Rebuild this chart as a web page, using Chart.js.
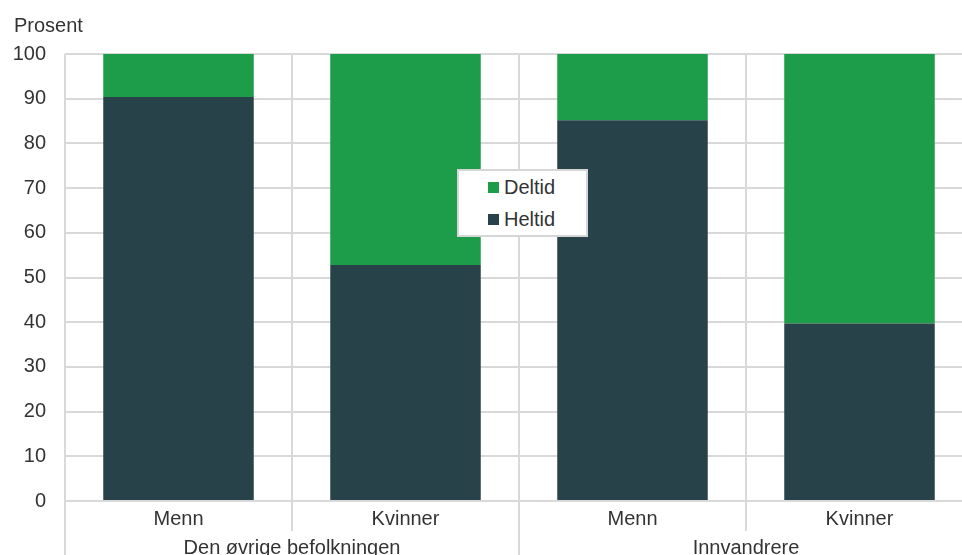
<!DOCTYPE html>
<html><head><meta charset="utf-8">
<script src="https://cdn.jsdelivr.net/npm/chart.js@4"></script>
<style>
html,body{margin:0;padding:0;overflow:hidden;background:#fff;width:962px;height:555px}
#wrap{position:relative;width:980px;height:555px}
#title{position:absolute;left:14px;top:13px;font-family:"Liberation Sans",Arial,sans-serif;font-size:20px;line-height:24px;color:#333}
#legend{position:absolute;left:457px;top:169px;width:127px;height:64px;border:2px solid #d6d6d6;background:#fff;font-family:"Liberation Sans",Arial,sans-serif;font-size:20px;color:#333}
.row{position:absolute;left:29px;height:24px;line-height:24px;white-space:nowrap}
.sq{display:inline-block;width:11px;height:11px;vertical-align:middle;margin-right:5px;position:relative;top:-1px}
</style>
</head><body>
<div id="wrap">
<canvas id="c" width="980" height="555"></canvas>
<div id="title">Prosent</div>
<div id="legend"></div>
</div>
<script>
const categories = ['Menn', 'Kvinner', 'Menn', 'Kvinner'];
const groups = ['Den øvrige befolkningen', 'Innvandrere'];
const heltid = [90.4, 52.8, 85.2, 39.7];
const deltid = [9.6, 47.2, 14.8, 60.3];
const yTicks = [0, 10, 20, 30, 40, 50, 60, 70, 80, 90, 100];

const green = '#1d9c4a';
const dark = '#284249';
const gridColor = '#d9d9d9';
const font = '"Liberation Sans", Arial, sans-serif';

const groupPlugin = {
  id: 'groups',
  afterDraw(chart) {
    const xs = chart.scales.x, ctx = chart.ctx, a = chart.chartArea;
    const n = categories.length, per = n / groups.length;
    const w = (xs.right - xs.left) / n;
    ctx.save();
    ctx.strokeStyle = gridColor;
    ctx.lineWidth = 2;
    for (let i = 0; i <= n; i++) {
      const px = Math.round(xs.left + i * w);
      ctx.beginPath();
      ctx.moveTo(px, a.bottom);
      ctx.lineTo(px, i % per === 0 ? a.bottom + 60 : a.bottom + 30);
      ctx.stroke();
    }
    ctx.fillStyle = '#333';
    ctx.font = '20px ' + font;
    ctx.textAlign = 'center';
    ctx.textBaseline = 'middle';
    groups.forEach((g, gi) => {
      const cx = xs.left + (gi * per + per / 2) * w;
      ctx.fillText(g, cx, a.bottom + 47);
    });
    ctx.restore();
  }
};

const chart = new Chart(document.getElementById('c'), {
  type: 'bar',
  data: {
    labels: categories,
    datasets: [
      { label: 'Heltid', data: heltid, backgroundColor: dark, barPercentage: 0.663, categoryPercentage: 1 },
      { label: 'Deltid', data: deltid, backgroundColor: green, barPercentage: 0.663, categoryPercentage: 1 }
    ]
  },
  options: {
    responsive: false,
    animation: false,
    layout: { padding: { left: 12, right: 7, top: 54, bottom: 18 } },
    plugins: { legend: { display: false }, tooltip: { enabled: false } },
    scales: {
      x: {
        stacked: true,
        grid: { offset: true, color: gridColor, lineWidth: 2, drawTicks: false },
        border: { display: false },
        ticks: { color: '#333', font: { family: font, size: 20 }, padding: 6 }
      },
      y: {
        stacked: true,
        min: 0, max: 100,
        afterBuildTicks(s) { s.ticks = yTicks.map(v => ({ value: v })); },
        afterFit(s) { s.width = 53; },
        grid: { color: gridColor, lineWidth: 2, drawTicks: false },
        border: { display: false },
        ticks: { color: '#333', font: { family: font, size: 20 }, padding: 19 }
      }
    }
  },
  plugins: [groupPlugin]
});

const leg = document.getElementById('legend');
const order = chart.data.datasets.slice().reverse();
order.forEach((ds, i) => {
  const r = document.createElement('div');
  r.className = 'row';
  r.style.top = (4 + i * 32) + 'px';
  const sq = document.createElement('span');
  sq.className = 'sq';
  sq.style.background = ds.backgroundColor;
  r.appendChild(sq);
  r.appendChild(document.createTextNode(ds.label));
  leg.appendChild(r);
});
</script>
</body></html>
